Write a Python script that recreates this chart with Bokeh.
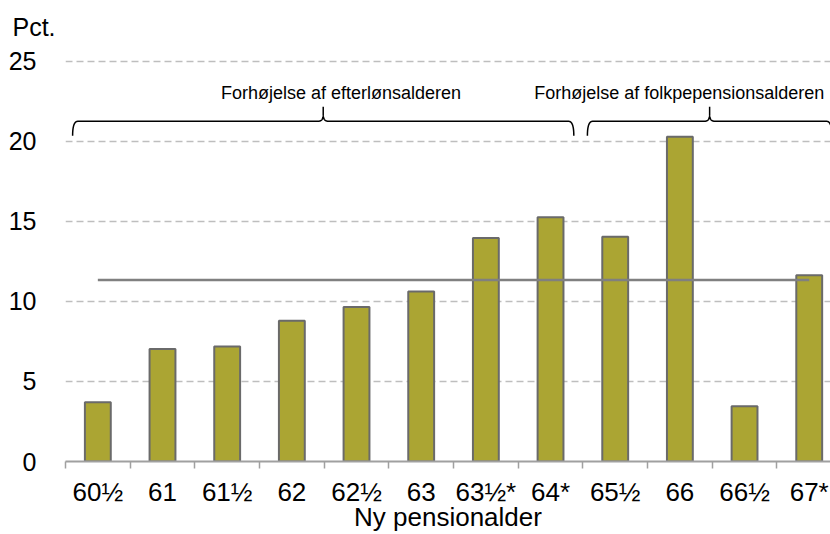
import numpy as np
from bokeh.plotting import figure
from bokeh.models import Range1d, FixedTicker, Label
from bokeh.embed import file_html
from bokeh.resources import INLINE

# ---------------- data ----------------
categories = ["60½", "61", "61½", "62", "62½", "63", "63½*", "64*", "65½", "66", "66½", "67*"]
values = [3.70, 7.03, 7.18, 8.79, 9.66, 10.63, 13.96, 15.26, 14.04, 20.29, 3.45, 11.64]
reference_level = 11.35
y_ticks = [0, 5, 10, 15, 20, 25]
y_unit_label = "Pct."
x_title = "Ny pensionalder"
bracket_texts = ["Forhøjelse af efterlønsalderen", "Forhøjelse af folkpepensionsalderen"]

# ---------------- layout ----------------
FONT = "Liberation Sans"
n = len(categories)
xs = np.arange(n)

p = figure(width=830, height=534, output_backend="svg", toolbar_location=None,
           x_range=Range1d(-0.5, 11.329), y_range=Range1d(0, 26.31),
           min_border_left=65, min_border_right=0, min_border_top=40, min_border_bottom=72,
           title=y_unit_label)
p.outline_line_color = None
p.background_fill_color = "white"
p.border_fill_color = "white"

p.title.align = "left"
p.title.offset = -53
p.title.standoff = 0
p.title.text_font = FONT
p.title.text_font_size = "25px"
p.title.text_font_style = "normal"
p.title.text_color = "black"

# bars
p.vbar(x=xs, top=values, width=0.4, bottom=0,
       fill_color="#ABA533", line_color="#6A6A6A", line_width=2)

# reference line
p.line(x=[xs[0], xs[-1]], y=[reference_level, reference_level],
       line_color="#808080", line_width=2.5)

# brackets
def bracket(x1, x2, y_end, y_h, y_tip, rx=0.08):
    xt = (x1 + x2) / 2
    t = np.linspace(0, 1, 12)
    def quad(p0, c, p1):
        return ((1 - t) ** 2 * p0[0] + 2 * (1 - t) * t * c[0] + t ** 2 * p1[0],
                (1 - t) ** 2 * p0[1] + 2 * (1 - t) * t * c[1] + t ** 2 * p1[1])
    dy = (y_tip - y_h) * 0.45
    segs = [
        quad((x1, y_end), (x1, y_h), (x1 + rx, y_h)),
        quad((xt - rx, y_h), (xt, y_h), (xt, y_h + dy)),
        (np.array([xt, xt]), np.array([y_h + dy, y_tip])),
        (np.array([xt, xt]), np.array([y_tip, y_h + dy])),
        quad((xt, y_h + dy), (xt, y_h), (xt + rx, y_h)),
        quad((x2 - rx, y_h), (x2, y_h), (x2, y_end)),
    ]
    bx = np.concatenate([s[0] for s in segs])
    by = np.concatenate([s[1] for s in segs])
    return bx, by

bracket_spans = [(-0.39, 7.36), (7.57, 11.35)]
text_centers = [3.76, 8.99]
for (x1, x2), txt, tc in zip(bracket_spans, bracket_texts, text_centers):
    bx, by = bracket(x1, x2, 20.36, 21.26, 22.17)
    p.line(bx, by, line_color="black", line_width=1.5)
    p.add_layout(Label(x=tc, y=23.03, text=txt, text_align="center",
                       text_baseline="alphabetic", text_font=FONT,
                       text_font_size="18px", text_color="black"))

# axes
p.xaxis.ticker = FixedTicker(ticks=list(xs), minor_ticks=list(np.arange(-0.5, n, 1.0)))
p.xaxis.major_label_overrides = {int(i): c for i, c in zip(xs, categories)}
p.xaxis.major_tick_line_color = None
p.xaxis.major_tick_out = 0
p.xaxis.major_tick_in = 0
p.xaxis.minor_tick_out = 7
p.xaxis.minor_tick_in = 0
p.xaxis.minor_tick_line_color = "#A0A0A0"
p.xaxis.minor_tick_line_width = 1.5
p.xaxis.axis_line_color = "#A0A0A0"
p.xaxis.axis_line_width = 2
p.xaxis.major_label_standoff = 8
p.xaxis.major_label_text_font = FONT
p.xaxis.major_label_text_font_size = "26px"
p.xaxis.major_label_text_color = "black"
p.xaxis.axis_label = x_title
p.xaxis.axis_label_standoff = -8
p.xaxis.axis_label_text_font = FONT
p.xaxis.axis_label_text_font_size = "26px"
p.xaxis.axis_label_text_font_style = "normal"
p.xaxis.axis_label_text_color = "black"

p.yaxis.ticker = FixedTicker(ticks=y_ticks, minor_ticks=[])
p.yaxis.axis_line_color = None
p.yaxis.major_tick_line_color = None
p.yaxis.minor_tick_line_color = None
p.yaxis.major_label_standoff = 23
p.yaxis.major_label_text_font = FONT
p.yaxis.major_label_text_font_size = "25px"
p.yaxis.major_label_text_color = "black"

p.xgrid.grid_line_color = None
p.ygrid.grid_line_color = "#BEBEBE"
p.ygrid.grid_line_dash = "7 4"
p.ygrid.grid_line_width = 1.5

open("out.html", "w").write(file_html(p, INLINE))
